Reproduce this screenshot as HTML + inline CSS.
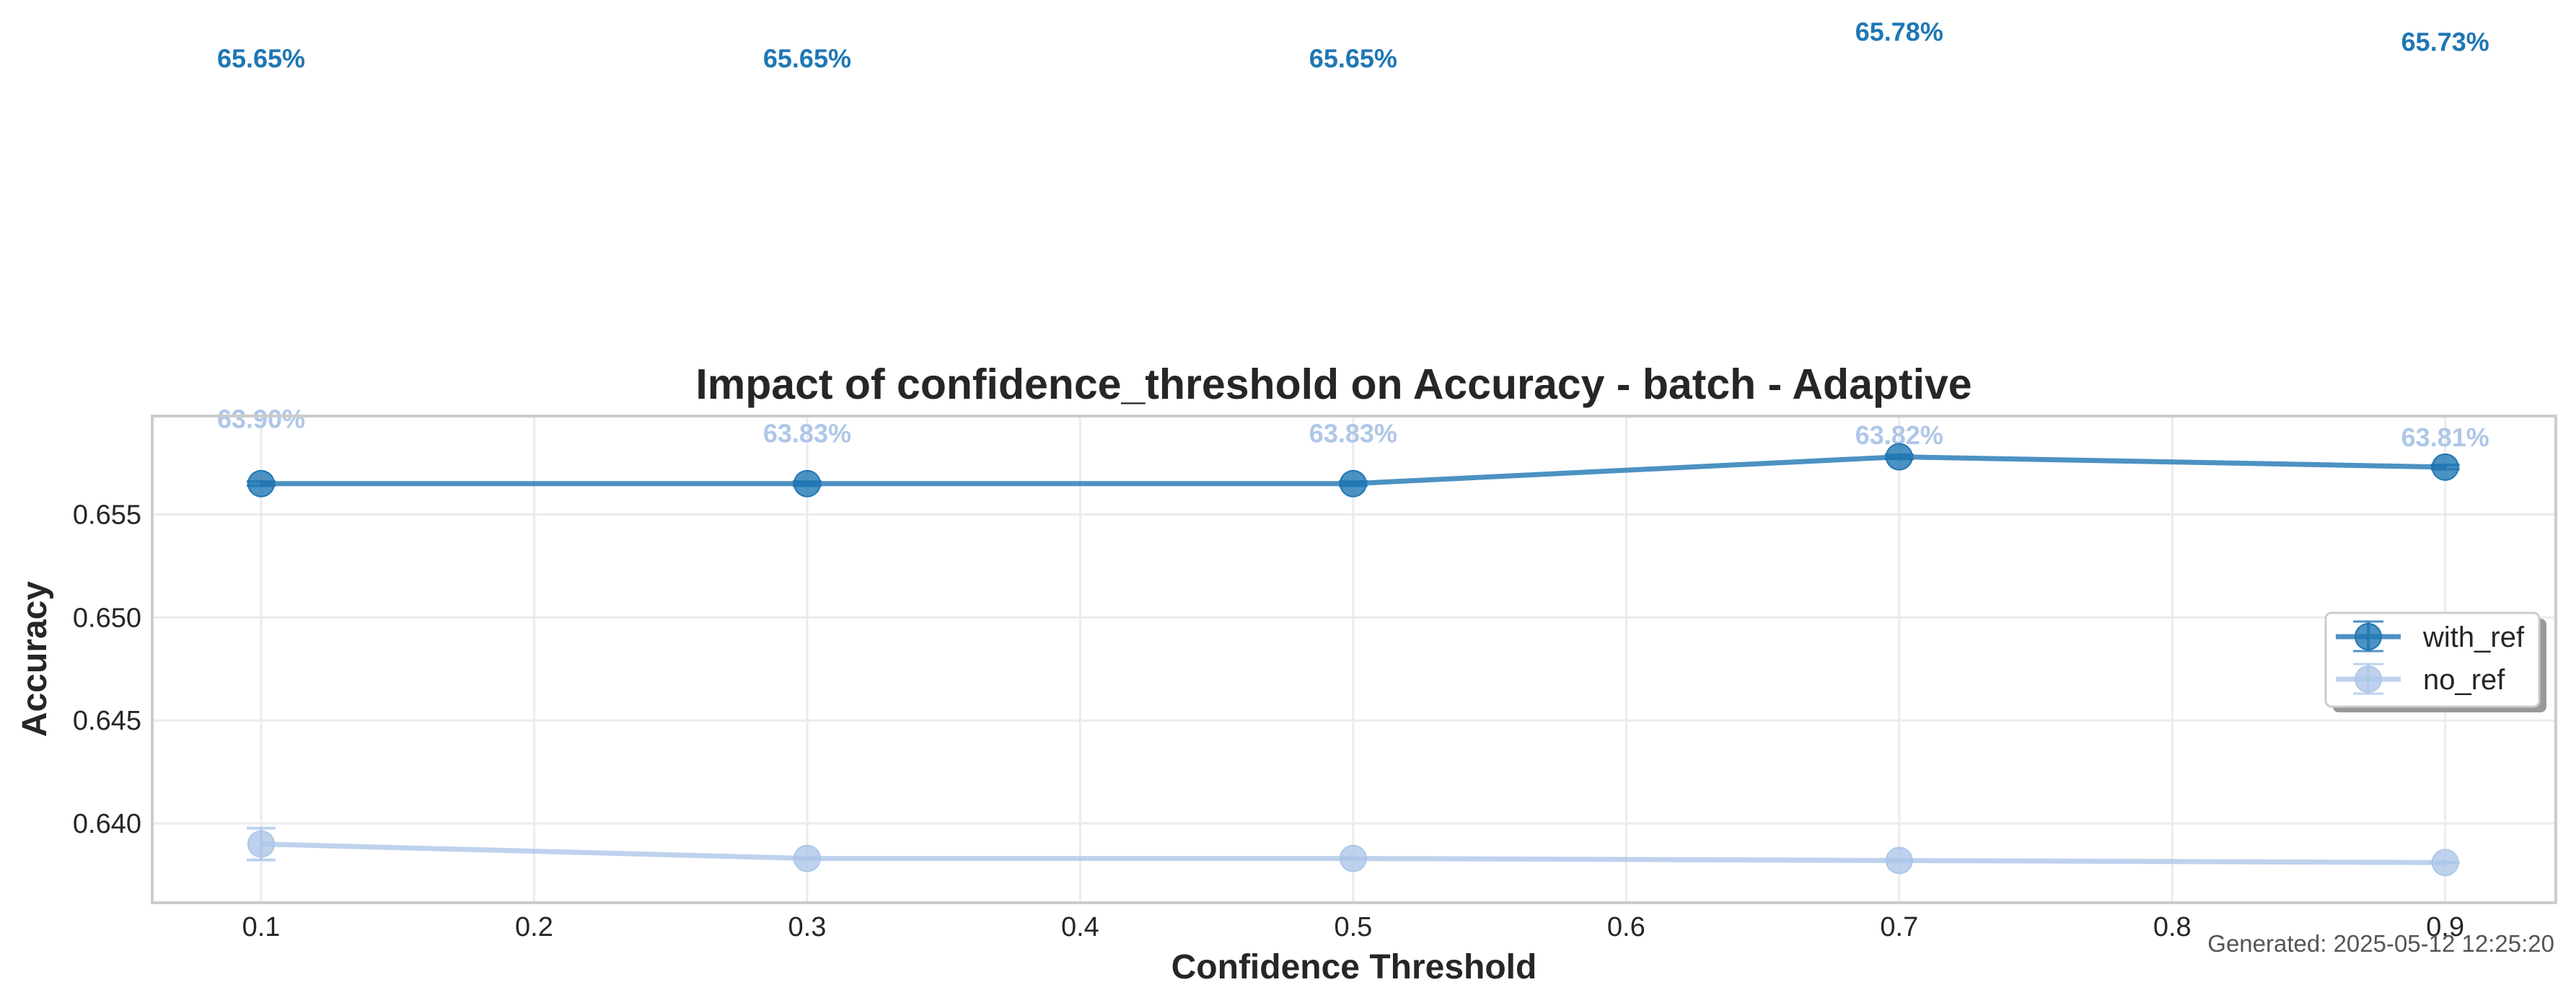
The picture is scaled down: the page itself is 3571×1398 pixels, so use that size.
<!DOCTYPE html>
<html><head><meta charset="utf-8"><style>
html,body{margin:0;padding:0;background:#fff;}
svg{display:block;font-family:"Liberation Sans",Arial,sans-serif;}
</style></head><body>
<svg id="chart" width="3571" height="1398" viewBox="0 0 3571 1398" xmlns="http://www.w3.org/2000/svg">
<rect x="0" y="0" width="3571" height="1398" fill="#fff"/>
<g id="grid"></g>
<g id="series"></g>
<rect x="211" y="577" width="3332" height="675" fill="none" stroke="#cccccc" stroke-width="4"/>
<g id="ticks"></g>
<text x="1849" y="553" font-size="59" font-weight="bold" fill="#262626" text-anchor="middle">Impact of confidence_threshold on Accuracy - batch - Adaptive</text>
<text x="1877" y="1357" font-size="48" font-weight="bold" fill="#262626" text-anchor="middle">Confidence Threshold</text>
<text transform="translate(64,914) rotate(-90)" font-size="48" font-weight="bold" fill="#262626" text-anchor="middle">Accuracy</text>
<text x="3541" y="1320" font-size="33" fill="#555" text-anchor="end">Generated: 2025-05-12 12:25:20</text>
<g>
<rect x="3234" y="858" width="296" height="130" rx="8" fill="#999"/>
<rect x="3224" y="850" width="296" height="130" rx="8" fill="#fff" stroke="#ccc" stroke-width="3"/>
<g>
<line x1="3238" y1="883" x2="3328" y2="883" stroke="#1f77b4" stroke-opacity="0.8" stroke-width="7"/>
<line x1="3283" y1="862" x2="3283" y2="903" stroke="#1f77b4" stroke-opacity="0.8" stroke-width="4"/>
<line x1="3262" y1="862" x2="3304" y2="862" stroke="#1f77b4" stroke-opacity="0.8" stroke-width="3"/>
<line x1="3262" y1="903" x2="3304" y2="903" stroke="#1f77b4" stroke-opacity="0.8" stroke-width="3"/>
<circle cx="3283" cy="883" r="18" fill="#1f77b4" fill-opacity="0.8" stroke="#1f77b4" stroke-width="2"/>
<text x="3359" y="897" font-size="40" fill="#262626">with_ref</text>
</g>
<g>
<line x1="3238" y1="942" x2="3328" y2="942" stroke="#aec7e8" stroke-opacity="0.8" stroke-width="7"/>
<line x1="3283" y1="921" x2="3283" y2="962" stroke="#aec7e8" stroke-opacity="0.8" stroke-width="4"/>
<line x1="3262" y1="921" x2="3304" y2="921" stroke="#aec7e8" stroke-opacity="0.8" stroke-width="3"/>
<line x1="3262" y1="962" x2="3304" y2="962" stroke="#aec7e8" stroke-opacity="0.8" stroke-width="3"/>
<circle cx="3283" cy="942" r="18" fill="#aec7e8" fill-opacity="0.8" stroke="#aec7e8" stroke-width="2"/>
<text x="3359" y="956" font-size="40" fill="#262626">no_ref</text>
</g>
</g>
</svg>
<script>
const thresholds = [0.1, 0.3, 0.5, 0.7, 0.9];
const withRef = [0.6565, 0.6565, 0.6565, 0.6578, 0.6573];
const withRefErr = [0.0001, 0.0001, 0.0001, 0.0001, 0.0001];
const noRef = [0.6390, 0.6383, 0.6383, 0.6382, 0.6381];
const noRefErr = [0.00077, 0, 0, 0, 0];
const xTicks = [0.1, 0.2, 0.3, 0.4, 0.5, 0.6, 0.7, 0.8, 0.9];
const yTicks = [0.640, 0.645, 0.650, 0.655];

const NS = "http://www.w3.org/2000/svg";
const X0 = 211, X1 = 3543, Y0 = 577, Y1 = 1252;
const xMin = 0.0601, xMax = 0.9405, yMin = 0.63615, yMax = 0.65978;
function xs(v){ return X0 + (v - xMin) / (xMax - xMin) * (X1 - X0); }
function ys(v){ return Y1 - (v - yMin) / (yMax - yMin) * (Y1 - Y0); }
function mk(tag, attrs, parent){
  const e = document.createElementNS(NS, tag);
  for (const k in attrs) e.setAttribute(k, attrs[k]);
  parent.appendChild(e);
  return e;
}
const grid = document.getElementById('grid');
const ticks = document.getElementById('ticks');
const series = document.getElementById('series');

xTicks.forEach(t => {
  const g = mk('line', {x1: xs(t), x2: xs(t), y1: Y0, y2: Y1, stroke: '#ebebeb', 'stroke-width': 3}, grid);
  
  
  const l = mk('text', {x: xs(t), y: 1298, 'font-size': 38, fill: '#262626', 'text-anchor': 'middle'}, ticks);
  l.textContent = t.toFixed(1);
  
  
});
yTicks.forEach(t => {
  const g = mk('line', {x1: X0, x2: X1, y1: ys(t), y2: ys(t), stroke: '#ebebeb', 'stroke-width': 3}, grid);
  
  
  const l = mk('text', {x: 196, y: ys(t) + 13, 'font-size': 38, fill: '#262626', 'text-anchor': 'end'}, ticks);
  l.textContent = t.toFixed(3);
  
  
});

function drawSeries(vals, errs, color, name){
  const g = mk('g', {}, series);
  
  
  const pts = thresholds.map((t, i) => xs(t) + ',' + ys(vals[i])).join(' ');
  const pl = mk('polyline', {points: pts, fill: 'none', stroke: color, 'stroke-opacity': 0.8, 'stroke-width': 7, 'stroke-linejoin': 'round'}, g);
  
  
  thresholds.forEach((t, i) => {
    const cx = xs(t), cy = ys(vals[i]);
    const top = ys(vals[i] + errs[i]), bot = ys(vals[i] - errs[i]);
    const e = mk('g', {stroke: color, 'stroke-opacity': 0.8, 'stroke-width': 4}, g);
    
    
    mk('line', {x1: cx, x2: cx, y1: top, y2: bot}, e);
    mk('line', {x1: cx - 20, x2: cx + 20, y1: top, y2: top}, e);
    mk('line', {x1: cx - 20, x2: cx + 20, y1: bot, y2: bot}, e);
    const c = mk('circle', {cx: cx, cy: cy, r: 18, fill: color, 'fill-opacity': 0.8, stroke: color, 'stroke-width': 2}, g);
    
    
    const lab = mk('text', {x: cx, y: ys(vals[i] + 0.02) - 6, 'font-size': 36, 'font-weight': 'bold', fill: color, 'text-anchor': 'middle'}, g);
    lab.textContent = (vals[i] * 100).toFixed(2) + '%';
    
    
  });
}
drawSeries(noRef, noRefErr, '#aec7e8', 'no-ref');
drawSeries(withRef, withRefErr, '#1f77b4', 'with-ref');
</script>
</body></html>
